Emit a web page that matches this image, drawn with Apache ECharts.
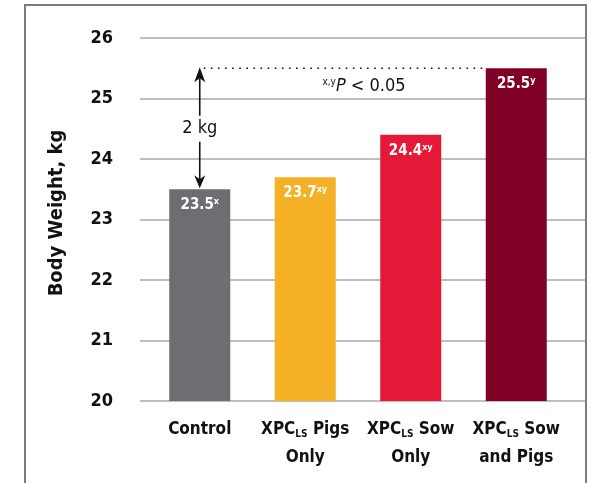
<!DOCTYPE html>
<html>
<head>
<meta charset="utf-8">
<script src="https://cdn.jsdelivr.net/npm/echarts@6/dist/echarts.min.js"></script>
<style>
html,body{margin:0;padding:0;background:#fff;}
#c{width:590px;height:483px;}
</style>
</head>
<body>
<div id="c"></div>
<script>
// ---- data ----
const categories = ['Control', 'XPC Pigs Only', 'XPC Sow Only', 'XPC Sow and Pigs'];
const categoryLabels = [
  '{b|Control}',
  '{b|XPC}{sub|LS}{b| Pigs}\n{b|Only}',
  '{b|XPC}{sub|LS}{b| Sow}\n{b|Only}',
  '{b|XPC}{sub|LS}{b| Sow}\n{b|and Pigs}'
];
const values = [23.5, 23.7, 24.4, 25.5];
const letters = ['x', 'xy', 'xy', 'y'];
const barColors = ['#6d6e71', '#f5b126', '#e31937', '#800026'];
const yTicks = [20, 21, 22, 23, 24, 25, 26];
const yAxisTitle = 'Body Weight, kg';
const diffText = '2 kg';
const pText = ' < 0.05';
const pSup = 'x,y';

const FONT = '"DejaVu Sans Condensed", "Liberation Sans Narrow", sans-serif';

const chart = echarts.init(document.getElementById('c'), null, {renderer: 'canvas'});

const option = {
  animation: false,
  backgroundColor: '#fff',
  grid: [
    {left: 140, right: 4, top: 38, bottom: 82},
    {left: 147, right: 21, top: 38, bottom: 82}
  ],
  xAxis: [
    {gridIndex: 0, type: 'value', show: false, min: 0, max: 1},
    {
      gridIndex: 1, type: 'category', data: categories,
      axisLine: {show: false}, axisTick: {show: false},
      axisLabel: {
        margin: 15,
        interval: 0,
        formatter: function (v, i) { return categoryLabels[i]; },
        rich: {
          b: {fontFamily: FONT, fontWeight: 'bold', fontSize: 17, color: '#111', lineHeight: 28},
          sub: {fontFamily: FONT, fontWeight: 'bold', fontSize: 10, color: '#111', padding: [9, 0, 0, 0], lineHeight: 28}
        }
      }
    }
  ],
  yAxis: [
    {
      gridIndex: 0, type: 'value', min: yTicks[0], max: yTicks[yTicks.length - 1], interval: 1,
      axisLine: {show: false}, axisTick: {show: false},
      axisLabel: {margin: 27, fontFamily: FONT, fontWeight: 'bold', fontSize: 18, color: '#111'},
      splitLine: {show: true, lineStyle: {color: '#a8a9ab', width: 1.6}}
    },
    {
      gridIndex: 1, type: 'value', min: yTicks[0], max: yTicks[yTicks.length - 1], interval: 1,
      show: false, splitLine: {show: false}
    }
  ],
  series: [{
    type: 'bar',
    xAxisIndex: 1, yAxisIndex: 1,
    barWidth: 61,
    data: values.map(function (v, i) {
      return {value: v, itemStyle: {color: barColors[i]}};
    }),
    label: {
      show: true,
      position: 'insideTop',
      distance: 8,
      formatter: function (p) {
        return '{v|' + values[p.dataIndex].toFixed(1) + '}{s|' + letters[p.dataIndex] + '}';
      },
      rich: {
        v: {fontFamily: FONT, fontWeight: 'bold', fontSize: 15, color: '#fff'},
        s: {fontFamily: FONT, fontWeight: 'bold', fontSize: 9, color: '#fff', padding: [0, 0, 7, 0]}
      }
    }
  }]
};
chart.setOption(option);

// annotations positioned through the chart's own scales
const pTop = chart.convertToPixel({xAxisIndex: 1, yAxisIndex: 1}, [categories[0], values[3]]);
const pBot = chart.convertToPixel({xAxisIndex: 1, yAxisIndex: 1}, [categories[0], values[0]]);
const pLast = chart.convertToPixel({xAxisIndex: 1, yAxisIndex: 1}, [categories[3], values[3]]);
const ax = pTop[0];
const lineEnd = pLast[0] - 30.5;
const midY = (pTop[1] + pBot[1]) / 2;
const pX = (pTop[0] + pLast[0]) / 2 + 6;

chart.setOption({
  graphic: [
    {type: 'polyline', shape: {points: [[25, 483], [25, 5], [586, 5], [586, 483]]}, style: {stroke: '#7d7d7d', lineWidth: 2, fill: null}, z: 10},
    {type: 'line', shape: {x1: ax + 4, y1: pTop[1], x2: lineEnd, y2: pTop[1]}, style: {stroke: '#111', lineWidth: 1.6, lineDash: [1.6, 5.5]}, z: 10},
    {type: 'line', shape: {x1: ax, y1: pTop[1] + 10, x2: ax, y2: midY - 13}, style: {stroke: '#111', lineWidth: 1.6}, z: 10},
    {type: 'line', shape: {x1: ax, y1: midY + 13, x2: ax, y2: pBot[1] - 10}, style: {stroke: '#111', lineWidth: 1.6}, z: 10},
    {type: 'polygon', shape: {points: [[ax, pTop[1] - 1], [ax - 5.5, pTop[1] + 14], [ax, pTop[1] + 10], [ax + 5.5, pTop[1] + 14]]}, style: {fill: '#111'}, z: 10},
    {type: 'polygon', shape: {points: [[ax, pBot[1] - 1], [ax - 5.5, pBot[1] - 14], [ax, pBot[1] - 10], [ax + 5.5, pBot[1] - 14]]}, style: {fill: '#111'}, z: 10},
    {type: 'text', x: ax, y: midY, style: {text: diffText, fontFamily: FONT, fontSize: 18, fill: '#111', align: 'center', verticalAlign: 'middle'}, z: 10},
    {type: 'text', x: pX, y: pTop[1] + 18, style: {
      text: '{s|' + pSup + '}{i|P}{n|' + pText + '}',
      align: 'center', verticalAlign: 'middle',
      rich: {
        s: {fontFamily: FONT, fontSize: 10, fill: '#111', padding: [0, 0, 8, 0]},
        i: {fontFamily: FONT, fontSize: 18, fontStyle: 'italic', fill: '#111'},
        n: {fontFamily: FONT, fontSize: 18, fill: '#111'}
      }
    }, z: 10},
    {type: 'text', x: 57, y: 213, rotation: Math.PI / 2, style: {text: yAxisTitle, fontFamily: FONT, fontWeight: 'bold', fontSize: 20, fill: '#111', align: 'center', verticalAlign: 'middle'}, z: 10}
  ]
});
</script>
</body>
</html>
